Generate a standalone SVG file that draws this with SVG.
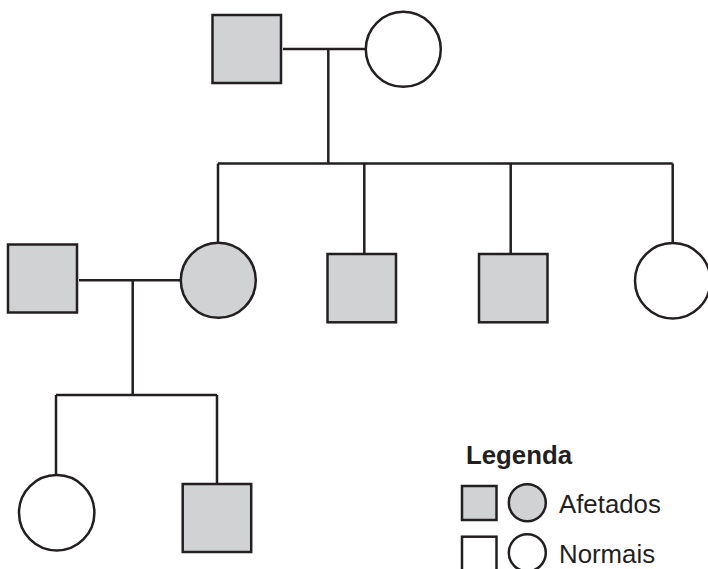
<svg xmlns="http://www.w3.org/2000/svg" width="708" height="569" viewBox="0 0 708 569">
<style>
.a{fill:#d1d2d4;stroke:#231f20;stroke-width:2.5}
.n{fill:#fff;stroke:#231f20;stroke-width:2.5}
.l{fill:none;stroke:#231f20;stroke-width:2.5}
.t{font-family:"Liberation Sans",Arial,sans-serif;font-size:25.8px;fill:#231f20}
</style>
<rect width="708" height="569" fill="#fff"/>
<g id="connectors">
<path class="l" d="M283 49H366M328.3 49V163.5M218 163.5H672.7M218 163.5V242.6M364.3 163.5V253.7M510.7 163.5V253.7M672.7 163.5V243"/>
<path class="l" d="M79 280.3H181M132.7 280.3V395M56 395H217M56 395V475M217 395V486"/>
</g>
<g id="I1"><rect class="a" x="212.5" y="15" width="68.5" height="68"/></g>
<g id="I2"><circle class="n" cx="403.3" cy="49.3" r="37.5"/></g>
<g id="II1"><rect class="a" x="8" y="244.5" width="69" height="68"/></g>
<g id="II2"><circle class="a" cx="218.3" cy="280.3" r="37.5"/></g>
<g id="II3"><rect class="a" x="327.5" y="254" width="68.5" height="68.3"/></g>
<g id="II4"><rect class="a" x="479" y="254" width="68.5" height="68.3"/></g>
<g id="II5"><circle class="n" cx="672.7" cy="280.7" r="37.7"/></g>
<g id="III1"><circle class="n" cx="56.7" cy="512.7" r="37.7"/></g>
<g id="III2"><rect class="a" x="182.7" y="484" width="68.5" height="68"/></g>
<g id="legend">
<text class="t" x="466" y="464.3" font-weight="bold">Legenda</text>
<rect class="a" x="462" y="486" width="34.5" height="34"/>
<circle class="a" cx="527.3" cy="502.7" r="18.5"/>
<text class="t" x="559" y="512.7">Afetados</text>
<rect class="n" x="462" y="536.7" width="34.5" height="34"/>
<circle class="n" cx="527.3" cy="552.8" r="18.5"/>
<text class="t" x="559" y="563.3">Normais</text>
</g>
</svg>
